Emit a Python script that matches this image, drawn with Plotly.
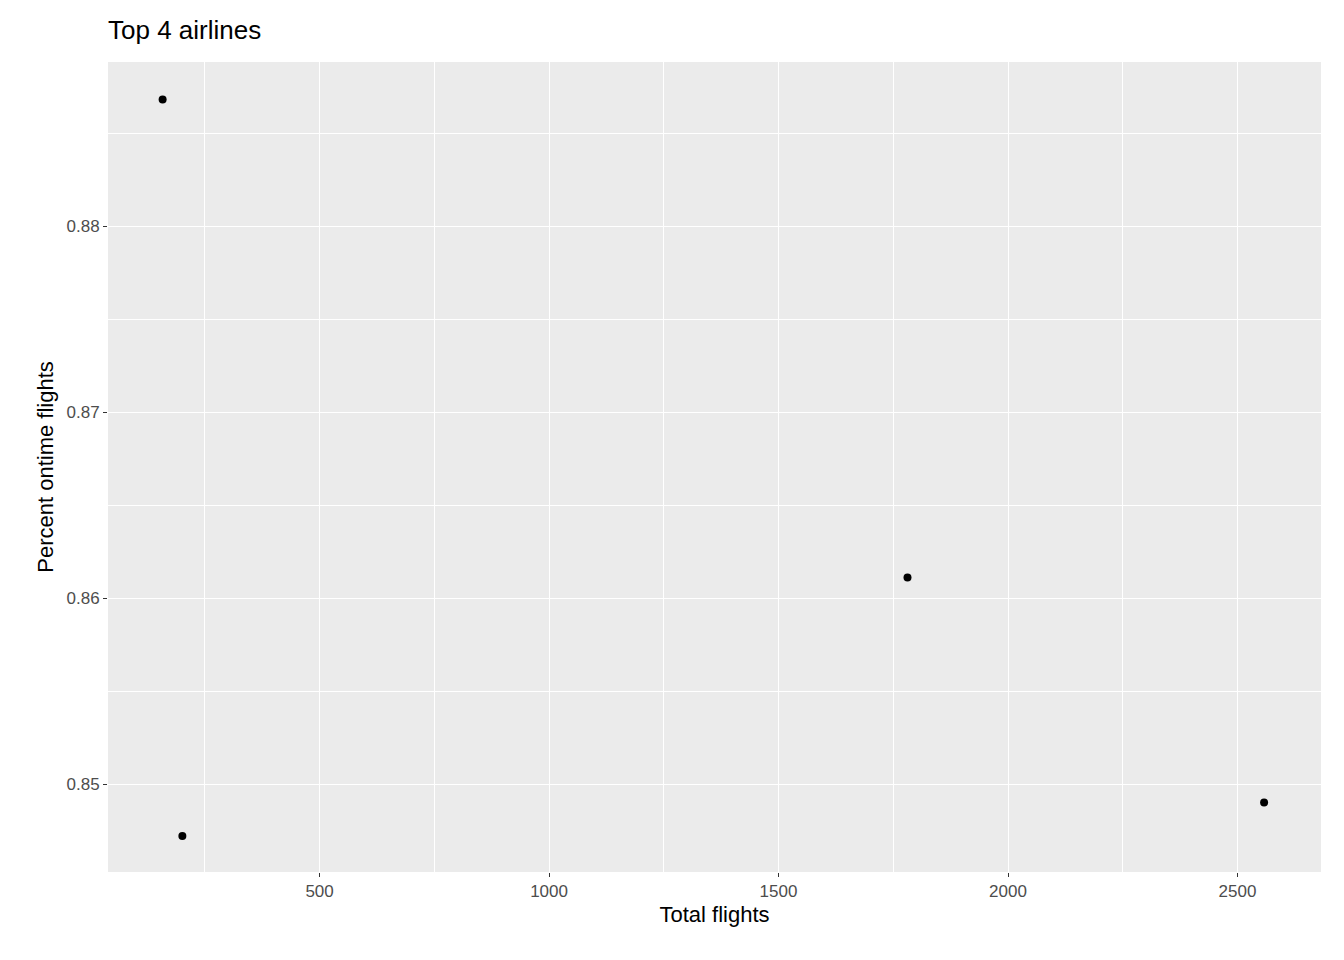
import plotly.graph_objects as go

total_flights = [158, 201, 1781, 2558]
pct_ontime = [0.8868, 0.8472, 0.8611, 0.8490]

fig = go.Figure(
    go.Scatter(
        x=total_flights,
        y=pct_ontime,
        mode="markers",
        marker=dict(color="black", size=8),
    )
)

axis_common = dict(
    showgrid=True,
    gridcolor="white",
    gridwidth=1.4,
    zeroline=False,
    ticks="outside",
    ticklen=4,
    tickcolor="#333333",
    tickfont=dict(family="Liberation Sans", size=17, color="#4D4D4D"),
    title_font=dict(family="Liberation Sans", size=22, color="black"),
)

fig.update_xaxes(
    range=[39, 2682],
    tickvals=[500, 1000, 1500, 2000, 2500],
    title_text="Total flights",
    title_standoff=6,
    minor=dict(showgrid=True, gridcolor="white", gridwidth=0.6,
               tick0=250, dtick=500),
    **axis_common,
)
fig.update_yaxes(
    range=[0.84527, 0.88882],
    tickvals=[0.85, 0.86, 0.87, 0.88],
    tickformat=".2f",
    title_text="Percent ontime flights",
    title_standoff=6,
    minor=dict(showgrid=True, gridcolor="white", gridwidth=0.6,
               tick0=0.845, dtick=0.01),
    **axis_common,
)

fig.update_layout(
    width=1328,
    height=944,
    plot_bgcolor="#EBEBEB",
    paper_bgcolor="white",
    showlegend=False,
    margin=dict(l=100, r=15, t=54, b=80),
    title=dict(
        text="Top 4 airlines",
        x=100 / 1328,
        xanchor="left",
        y=1 - 22 / 944,
        yanchor="middle",
        font=dict(family="Liberation Sans", size=26, color="black"),
    ),
)

fig.write_html("out.html")
